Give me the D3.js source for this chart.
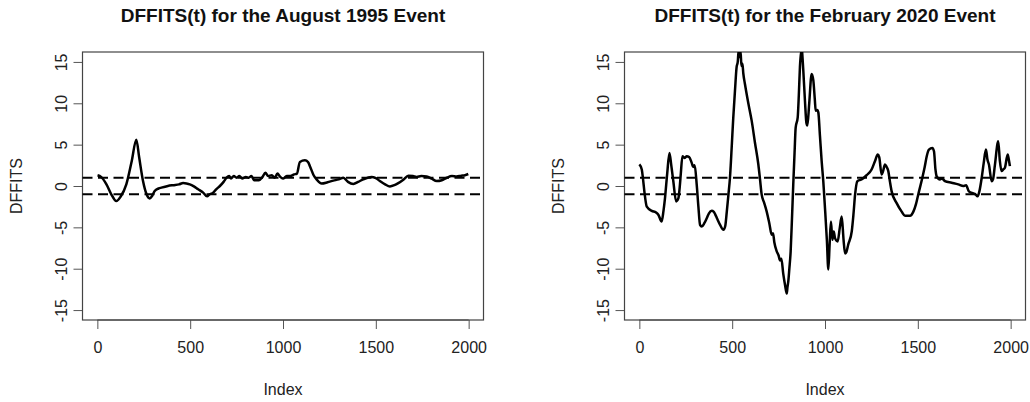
<!DOCTYPE html>
<html>
<head>
<meta charset="utf-8">
<script src="https://cdn.jsdelivr.net/npm/d3@7"></script>
<style>
  body { margin: 0; background: #fff; }
  svg { display: block; font-family: "Liberation Sans", Arial, Helvetica, sans-serif; }
</style>
</head>
<body>
<div id="chart"></div>
<script>
// ---- data ----
const xTicks = [0, 500, 1000, 1500, 2000];
const yTicks = [-15, -10, -5, 0, 5, 10, 15];
const cutoffs = [-1, 1];

const aug1995Index = [1, 20, 49, 75, 102, 125, 156, 185, 210, 225, 246, 265, 282, 295, 309, 330, 345, 380,
  408, 440, 462, 480, 498, 520, 543, 570, 591, 605, 624, 640, 660, 680, 696, 710, 720, 735, 750, 765,
  780, 800, 815, 830, 845, 870, 890, 905, 920, 940, 955, 970, 985, 1000, 1020, 1040, 1060, 1075, 1091,
  1118, 1135, 1145, 1165, 1181, 1208, 1240, 1271, 1300, 1325, 1350, 1379, 1405, 1432, 1477, 1500, 1522,
  1550, 1576, 1600, 1621, 1650, 1675, 1700, 1720, 1745, 1774, 1800, 1828, 1855, 1882, 1910, 1935, 1960,
  1980, 1998];
const aug1995Dffits = [1.3, 1.1, 0.2, -1.0, -1.82, -1.3, 0.2, 3.0, 5.6, 3.5, 0.6, -1.0, -1.5, -1.2, -0.6,
  -0.3, -0.2, 0.0, 0.1, 0.2, 0.35, 0.3, 0.2, -0.05, -0.4, -0.8, -1.25, -1.0, -0.8, -0.4, 0.0, 0.5, 1.0,
  1.2, 0.9, 1.2, 1.0, 1.2, 0.9, 1.1, 1.0, 1.2, 0.7, 0.7, 1.1, 1.6, 1.2, 1.3, 1.0, 1.5, 1.1, 0.9, 1.2,
  1.2, 1.4, 1.5, 2.9, 3.1, 2.9, 2.4, 1.3, 0.8, 0.3, 0.45, 0.65, 0.8, 1.0, 0.5, 0.25, 0.5, 0.8, 1.1, 0.95,
  0.6, 0.2, -0.05, 0.1, 0.35, 0.8, 1.25, 1.2, 1.1, 1.2, 1.15, 0.9, 0.6, 0.7, 1.0, 1.2, 1.15, 1.25, 1.3,
  1.45];

const feb2020Index = [0, 13, 20, 27, 40, 67, 90, 103, 120, 130, 138, 150, 162, 172, 183, 198, 210, 218,
  223, 232, 245, 255, 268, 282, 290, 298, 309, 318, 327, 336, 350, 363, 375, 390, 400, 408, 420, 435,
  453, 463, 471, 480, 488, 497, 506, 515, 524, 530, 535, 540, 545, 550, 555, 560, 569, 587, 605, 623, 641,
  650, 659, 672, 686, 700, 713, 720, 727, 740, 750, 758, 765, 775, 785, 794, 798, 802, 808, 815, 822,
  829, 836, 842, 853, 859, 865, 874, 883, 892, 900, 905, 915, 928, 937, 945, 950, 958, 964, 973, 982,
  991, 1000, 1010, 1018, 1025, 1032, 1040, 1047, 1054, 1068, 1080, 1090, 1100, 1108, 1115, 1125, 1144,
  1153, 1162, 1174, 1185, 1197, 1224, 1251, 1269, 1284, 1292, 1305, 1313, 1323, 1332, 1341, 1350, 1359,
  1386, 1413, 1431, 1458, 1476, 1490, 1502, 1524, 1537, 1548, 1560, 1578, 1587, 1595, 1601, 1619, 1630,
  1646, 1682, 1718, 1745, 1760, 1775, 1799, 1810, 1822, 1833, 1844, 1855, 1867, 1875, 1883, 1898, 1905,
  1915, 1933, 1942, 1951, 1960, 1969, 1984, 1990, 1996];
const feb2020Dffits = [2.6, 2.0, 0.8, -0.65, -2.5, -3.0, -3.2, -3.5, -4.3, -3.0, -1.5, 1.5, 4.0, 2.5,
  0.57, -1.86, -1.5, 0.0, 1.4, 3.6, 3.4, 3.6, 3.5, 2.8, 2.3, 2.5, 0.17, -2.5, -4.7, -4.9, -4.5, -3.9,
  -3.3, -3.0, -3.1, -3.4, -4.0, -4.7, -5.3, -4.8, -3.1, -1.0, 0.97, 4.5, 8.3, 11.5, 14.4, 15.0, 16.4,
  15.6, 16.3, 14.5, 14.8, 13.6, 12.3, 10.0, 7.9, 5.2, 2.6, 0.8, -1.05, -2.0, -3.1, -4.5, -5.9, -5.7, -6.8,
  -7.9, -8.4, -9.0, -8.8, -10.6, -12.0, -13.0, -12.2, -11.6, -10.0, -7.9, -4.0, 0.17, 4.0, 7.06, 8.3,
  11.0, 14.4, 16.6, 14.0, 10.3, 7.6, 7.3, 10.0, 13.55, 12.8, 10.5, 9.1, 9.2, 8.9, 6.0, 3.0, 0.5, -2.7,
  -6.5, -10.1, -7.0, -4.3, -6.5, -5.5, -6.3, -6.7, -5.0, -3.7, -6.5, -8.15, -8.0, -7.1, -5.5, -3.5,
  -1.05, 0.57, 0.7, 0.8, 1.3, 2.0, 3.0, 3.8, 3.5, 1.4, 1.8, 2.6, 2.3, 1.8, 0.5, -0.65, -2.07, -3.1,
  -3.6, -3.6, -3.1, -2.2, -1.05, 0.97, 2.3, 3.6, 4.4, 4.6, 4.2, 2.0, 1.2, 0.8, 0.9, 0.6, 0.4, 0.2, 0.0,
  0.1, -0.65, -0.9, -1.0, -1.25, -0.5, 0.97, 2.8, 4.4, 3.2, 2.6, 0.57, 0.8, 2.5, 5.4, 3.0, 1.8, 2.0,
  2.2, 3.8, 3.2, 2.4];

const panels = [
  { title: 'DFFITS(t) for the August 1995 Event', index: aug1995Index, values: aug1995Dffits, left: 82.5 },
  { title: 'DFFITS(t) for the February 2020 Event', index: feb2020Index, values: feb2020Dffits, left: 624.5 }
];

const width = 1030, height = 402;
const plotW = 401, plotTop = 52, plotBottom = 320;

const svg = d3.select('#chart')
  .append('svg')
  .attr('width', width)
  .attr('height', height);

panels.forEach((p, i) => {
  const x = d3.scaleLinear().domain([-80, 2080]).range([p.left, p.left + plotW]);
  const y = d3.scaleLinear().domain([-16.2, 16.2]).range([plotBottom, plotTop]);
  const g = svg.append('g');

  // clip the series to the plot box, like base R does
  g.append('clipPath').attr('id', 'clip' + i)
    .append('rect')
    .attr('x', p.left).attr('y', plotTop)
    .attr('width', plotW).attr('height', plotBottom - plotTop);

  // title
  g.append('text')
    .attr('x', p.left + plotW / 2)
    .attr('y', 22)
    .attr('text-anchor', 'middle')
    .style('font-size', '19px')
    .style('font-weight', 'bold')
    .attr('fill', '#111')
    .text(p.title);

  // x axis
  const xAxis = d3.axisBottom(x).tickValues(xTicks).tickSize(9).tickPadding(13).tickFormat(d => String(d));
  const xg = g.append('g').attr('transform', `translate(0,${plotBottom})`).call(xAxis);
  xg.select('.domain').attr('d', `M${x(0)},0H${x(2000)}`).attr('stroke', '#444');
  xg.selectAll('.tick line').attr('stroke', '#555');
  xg.selectAll('.tick text').style('font-size', '16px').attr('fill', '#222')
    .style('font-family', '"Liberation Sans", Arial, sans-serif');

  // y axis (R style: rotated labels, plain hyphen minus)
  const yAxis = d3.axisLeft(y).tickValues(yTicks).tickSize(9).tickPadding(0).tickFormat(d => String(d));
  const yg = g.append('g').attr('transform', `translate(${p.left},0)`).call(yAxis);
  yg.select('.domain').attr('d', `M0,${y(-15)}V${y(15)}`).attr('stroke', '#444');
  yg.selectAll('.tick line').attr('stroke', '#555');
  yg.selectAll('.tick text')
    .attr('x', null).attr('dy', null)
    .attr('transform', 'translate(-16,0) rotate(-90)')
    .attr('text-anchor', 'middle')
    .style('font-size', '16px').attr('fill', '#222')
    .style('font-family', '"Liberation Sans", Arial, sans-serif');

  // box
  g.append('rect')
    .attr('x', p.left).attr('y', plotTop)
    .attr('width', plotW).attr('height', plotBottom - plotTop)
    .attr('fill', 'none').attr('stroke', '#444').attr('stroke-width', 1.2);

  // axis titles
  g.append('text')
    .attr('x', p.left + plotW / 2).attr('y', 395)
    .attr('text-anchor', 'middle')
    .style('font-size', '16px').attr('fill', '#222')
    .text('Index');
  g.append('text')
    .attr('transform', `translate(${p.left - 61},${(plotTop + plotBottom) / 2}) rotate(-90)`)
    .attr('text-anchor', 'middle')
    .style('font-size', '16px').attr('fill', '#222')
    .text('DFFITS');

  // cut-off lines at +-1
  g.selectAll('line.cut')
    .data(cutoffs)
    .enter()
    .append('line')
    .attr('class', 'cut')
    .attr('x1', p.left).attr('x2', p.left + plotW)
    .attr('y1', d => y(d)).attr('y2', d => y(d))
    .attr('stroke', '#000')
    .attr('stroke-width', 2.2)
    .attr('stroke-dasharray', '10,5.5');

  // series
  const pts = p.index.map((d, k) => [d, p.values[k]]);
  const line = d3.line()
    .x(d => x(d[0]))
    .y(d => y(d[1]))
    .curve(d3.curveMonotoneX);

  g.append('path')
    .datum(pts)
    .attr('clip-path', `url(#clip${i})`)
    .attr('d', line)
    .attr('fill', 'none')
    .attr('stroke', '#000')
    .attr('stroke-width', 2.5)
    .attr('stroke-linejoin', 'round');
});
</script>
</body>
</html>
